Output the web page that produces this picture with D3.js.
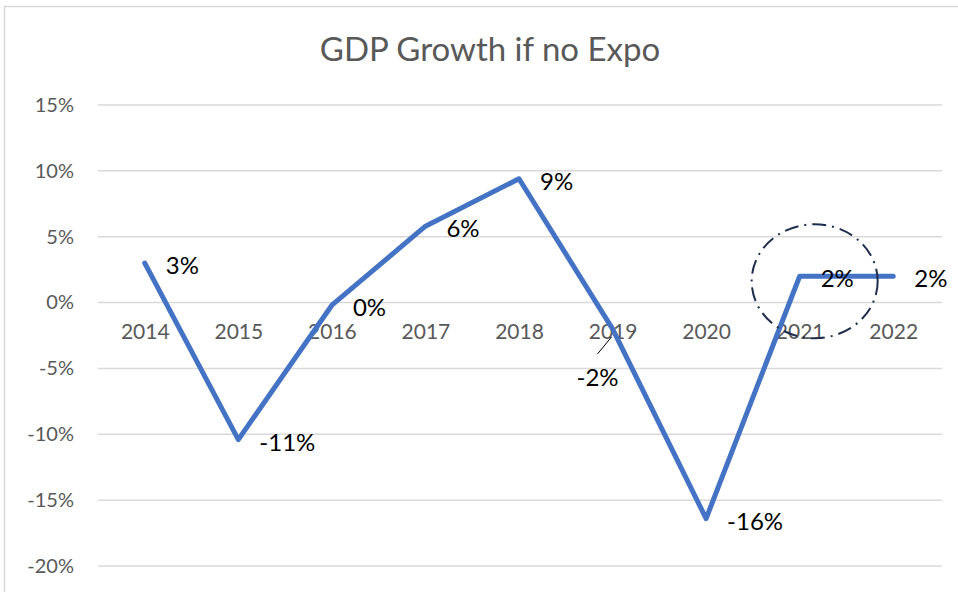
<!DOCTYPE html>
<html>
<head>
<meta charset="utf-8">
<script src="https://cdn.jsdelivr.net/npm/d3@7"></script>
<style>
  body { margin: 0; background: #fff; }
  svg { display: block; font-family: Lato, "Open Sans", sans-serif; }
</style>
</head>
<body>
<svg id="chart" width="958" height="592"></svg>
<script>
// chart data
var years = ["2014", "2015", "2016", "2017", "2018", "2019", "2020", "2021", "2022"];
var growth = [0.030, -0.104, -0.002, 0.058, 0.094, -0.020, -0.164, 0.020, 0.020];
var valueLabels = ["3%", "-11%", "0%", "6%", "9%", "-2%", "-16%", "2%", "2%"];
var yTicks = [-0.20, -0.15, -0.10, -0.05, 0, 0.05, 0.10, 0.15];

var svg = d3.select("#chart");

// outer chart border (cropped at right/bottom)
svg.append("rect")
    .attr("x", 4.5).attr("y", 6.5)
    .attr("width", 1200).attr("height", 1200)
    .attr("fill", "none")
    .attr("stroke", "#d9d9d9")
    .attr("stroke-width", 1.5);

svg.append("text")
    .attr("x", 490).attr("y", 61)
    .attr("text-anchor", "middle")
    .attr("font-size", 33)
    .attr("fill", "#595959")
    .text("GDP Growth if no Expo");

var x = d3.scalePoint().domain(years).range([98, 940]).padding(0.5);
var y = d3.scaleLinear().domain([-0.20, 0.15]).range([566, 105]);

// gridlines
svg.append("g")
    .selectAll("line")
    .data(yTicks)
    .enter()
    .append("line")
    .attr("x1", 98).attr("x2", 942)
    .attr("y1", function (d) { return y(d); })
    .attr("y2", function (d) { return y(d); })
    .attr("stroke", "#d9d9d9")
    .attr("stroke-width", 1.5);

// y axis labels (plain hyphen like Excel)
var pct = d3.format(".0%");
var yAxis = d3.axisLeft(y).tickValues(yTicks).tickSize(0).tickPadding(0)
    .tickFormat(function (d) { return pct(d).replace("\u2212", "-"); });
var gy = svg.append("g").attr("transform", "translate(74,0)").call(yAxis);
gy.select(".domain").remove();
gy.selectAll("text")
    .attr("font-family", "Lato, sans-serif")
    .attr("font-size", 20)
    .attr("fill", "#595959");

// category labels sit just below the zero line
var xAxis = d3.axisBottom(x).tickSize(0).tickPadding(0);
var gx = svg.append("g").attr("transform", "translate(0," + (y(0) + 22) + ")").call(xAxis);
gx.select(".domain").remove();
gx.selectAll("text")
    .attr("font-family", "Lato, sans-serif")
    .attr("font-size", 21)
    .attr("fill", "#595959");

// the series line
var line = d3.line()
    .x(function (d, i) { return x(years[i]); })
    .y(function (d) { return y(d); });

svg.append("path")
    .datum(growth)
    .attr("d", line)
    .attr("fill", "none")
    .attr("stroke", "#4472c4")
    .attr("stroke-width", 5)
    .attr("stroke-linejoin", "round")
    .attr("stroke-linecap", "round");

// data labels, to the right of each point; 2019 was dragged below
svg.append("g")
    .selectAll("text")
    .data(growth)
    .enter()
    .append("text")
    .attr("x", function (d, i) {
        return i === 5 ? x(years[i]) - 15 : x(years[i]) + 21;
    })
    .attr("y", function (d, i) {
        return i === 5 ? y(d) + 57 : y(d) + 11;
    })
    .attr("text-anchor", function (d, i) { return i === 5 ? "middle" : "start"; })
    .attr("font-size", 24)
    .attr("fill", "#000")
    .text(function (d, i) { return valueLabels[i]; });

// leader line for the moved 2019 label
svg.append("line")
    .attr("x1", x("2019") - 15).attr("y1", y(growth[5]) + 25)
    .attr("x2", x("2019") - 1).attr("y2", y(growth[5]) + 8)
    .attr("stroke", "#000")
    .attr("stroke-width", 1);

// dash-dot ellipse around 2021
svg.append("ellipse")
    .attr("cx", x("2021") + 15)
    .attr("cy", y(growth[7]) + 5)
    .attr("rx", 63).attr("ry", 57)
    .attr("fill", "none")
    .attr("stroke", "#1f2d4d")
    .attr("stroke-width", 2)
    .attr("stroke-dasharray", "14 6 2 6");
</script>
</body>
</html>
